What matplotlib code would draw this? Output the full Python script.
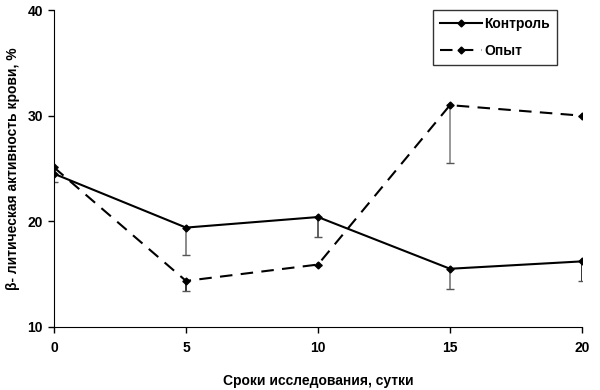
import matplotlib
matplotlib.use("Agg")
import matplotlib.pyplot as plt

days = [0, 5, 10, 15, 20]
control = [24.5, 19.4, 20.4, 15.5, 16.2]
control_err = [0.8, 2.6, 1.9, 1.9, 1.9]
opyt = [25.1, 14.35, 15.9, 31.0, 30.0]
opyt_err = [0.0, 1.0, 0.0, 5.5, 0.0]
yticks = [10, 20, 30, 40]
xticks = [0, 5, 10, 15, 20]

plt.rcParams['font.family'] = ['Liberation Sans', 'DejaVu Sans']
plt.rcParams['font.weight'] = 'bold'

fig = plt.figure(figsize=(6, 3.9), dpi=100)
ax = fig.add_axes([0.09, 0.162, 0.88, 0.812])

eb1 = ax.errorbar(days, control, yerr=[control_err, [0]*5], fmt='none', ecolor='#555555',
                  elinewidth=1.2, capsize=3, capthick=1.0, zorder=2)
eb1[2][0].set_color(['#222222', '#777777', '#444444', '#777777', '#111111'])
eb2 = ax.errorbar(days, opyt, yerr=[opyt_err, [0]*5], fmt='none', ecolor='#555555',
                  elinewidth=1.2, capsize=3, capthick=1.0, zorder=2)
eb2[2][0].set_color(['#222222', '#111111', '#222222', '#888888', '#111111'])

ax.plot(days, control, '-', color='black', lw=1.5, marker='D', ms=3.5, label='Контроль', zorder=3)
ax.plot(days, opyt, '--', color='black', lw=1.5, marker='D', ms=3.5, dashes=(6, 4), label='Опыт', zorder=3)

ax.set_xlim(0, 20)
ax.set_ylim(10, 40)
ax.set_xticks(xticks)
ax.set_yticks(yticks)
ax.spines['top'].set_visible(False)
ax.spines['right'].set_visible(False)
ax.tick_params(direction='out', length=4, width=1, labelsize=10, pad=4)
ax.tick_params(axis='x', pad=6)
for lab in ax.get_xticklabels() + ax.get_yticklabels():
    lab.set_fontweight('bold')
ax.set_xlabel('Сроки исследования, сутки', fontsize=10, fontweight='bold', labelpad=14)
ax.set_ylabel('β- литическая активность крови, %', fontsize=10, fontweight='bold', labelpad=5)

leg = ax.legend(loc='upper right', bbox_to_anchor=(0.953, 1.0), borderaxespad=0,
                frameon=True, fancybox=False,
                edgecolor='black', fontsize=10, handlelength=3.0, handletextpad=0.2,
                borderpad=0.5, labelspacing=0.9)
leg.get_frame().set_linewidth(1.0)

fig.savefig('out.png', dpi=100)
